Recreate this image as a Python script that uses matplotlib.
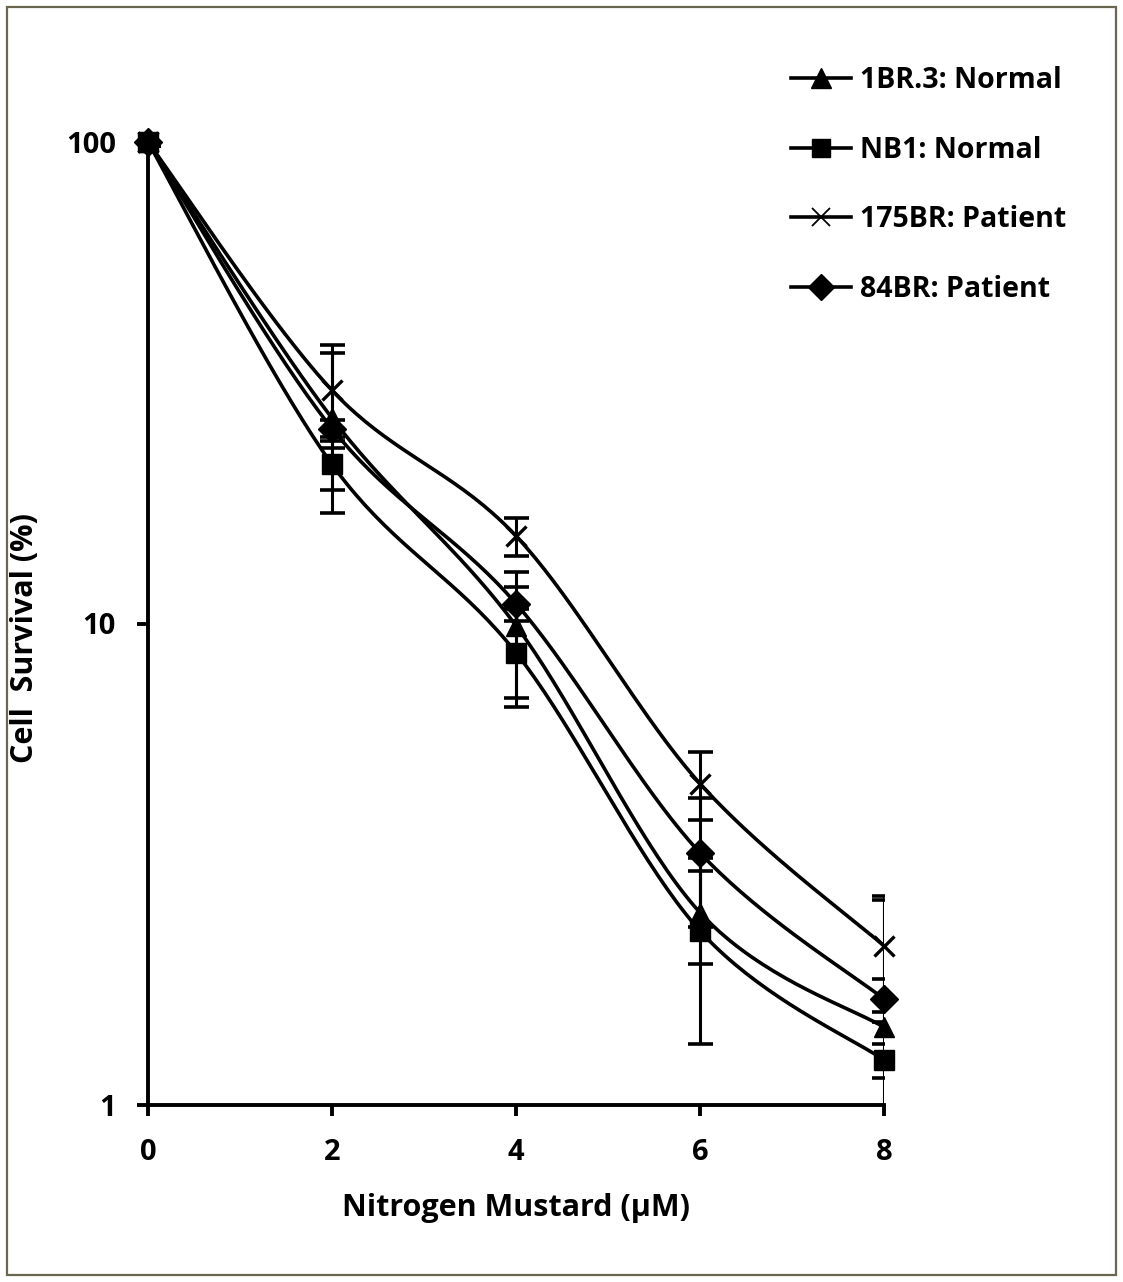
import numpy as np
import matplotlib
matplotlib.use("Agg")
import matplotlib.pyplot as plt
from matplotlib.patches import Rectangle

plt.rcParams['font.family'] = ['Open Sans', 'DejaVu Sans']
plt.rcParams['font.weight'] = 'bold'

dose = [0, 2, 4, 6, 8]
labels = ["1BR.3: Normal", "NB1: Normal", "175BR: Patient", "84BR: Patient"]
survival_1br3 = [100, 26.7, 9.9, 2.51, 1.45]
err_1br3 = [2, 9.7, 2.9, 0.55, 1.21]
survival_nb1 = [100, 21.4, 8.7, 2.30, 1.24]
err_nb1 = [2, 2.5, 2.0, 0.96, 0.1]
survival_175br = [100, 30.5, 15.2, 4.65, 2.14]
err_175br = [2, 7.3, 1.4, 0.75, 0.58]
survival_84br = [100, 25.4, 11.0, 3.34, 1.66]
err_84br = [2, 1.0, 0.9, 1.0, 0.17]

series = [
    (survival_1br3, err_1br3, '^', 15),
    (survival_nb1, err_nb1, 's', 14),
    (survival_175br, err_175br, 'x', 14),
    (survival_84br, err_84br, 'D', 14),
]

def smooth(xs, ys, n=40):
    xs = np.asarray(xs, float); ys = np.log10(np.asarray(ys, float))
    P = np.column_stack([xs, ys])
    P = np.vstack([P[0], P, P[-1]])
    out = []
    for i in range(1, len(P) - 2):
        p0, p1, p2, p3 = P[i-1], P[i], P[i+1], P[i+2]
        t = np.linspace(0, 1, n)[:, None]
        c1 = p1 + (p2 - p0) / 6.0
        c2 = p2 - (p3 - p1) / 6.0
        seg = ((1-t)**3)*p1 + 3*((1-t)**2)*t*c1 + 3*(1-t)*t**2*c2 + t**3*p2
        out.append(seg)
    S = np.vstack(out)
    return S[:, 0], 10**S[:, 1]

W, H = 1123, 1282
fig = plt.figure(figsize=(W/100, H/100), dpi=100)
ax = fig.add_axes([148/W, 1 - 1105/H, (884-148)/W, (1105-142)/H])

handles = []
for (vals, errs, mk, ms), lab in zip(series, labels):
    sx, sy = smooth(dose, vals)
    ax.plot(sx, sy, color='k', lw=2.6, zorder=2, clip_on=False)
    ax.errorbar(dose, vals, yerr=errs, fmt='none', ecolor='k', elinewidth=2.2,
                capsize=9, capthick=2.6, zorder=3)
    mew = 2.4 if mk == 'x' else 1
    ax.plot(dose, vals, linestyle='none', marker=mk, markersize=ms,
            markerfacecolor='k', markeredgecolor='k', markeredgewidth=mew,
            zorder=4, clip_on=False)
    h, = ax.plot([], [], color='k', lw=2.6, marker=mk, markersize=ms * 0.95,
                 markerfacecolor='k', markeredgecolor='k',
                 markeredgewidth=(1.3 if mk == 'x' else 1))
    handles.append(h)

ax.set_yscale('log')
ax.set_xlim(0, 8)
ax.set_ylim(1, 100)
ax.set_xticks([0, 2, 4, 6, 8])
ax.set_yticks([1, 10, 100])
ax.set_yticklabels(['1', '10', '100'])
ax.yaxis.set_minor_locator(matplotlib.ticker.NullLocator())
for s in ['top', 'right']:
    ax.spines[s].set_visible(False)
for s in ['left', 'bottom']:
    ax.spines[s].set_linewidth(2.8)
ax.tick_params(axis='both', direction='out', length=8, width=2.8,
               labelsize=21)
ax.tick_params(axis='x', pad=16)
ax.tick_params(axis='y', pad=15)
for lbl in ax.get_xticklabels() + ax.get_yticklabels():
    lbl.set_fontweight('bold')
ax.set_xlabel('Nitrogen Mustard (μM)', fontsize=22, fontweight='bold')
ax.set_ylabel('Cell  Survival (%)', fontsize=22, fontweight='bold')
ax.xaxis.set_label_coords(0.5, -(1193 - 1105) / (1105 - 142), transform=ax.transAxes)
ax.yaxis.set_label_coords(-(148 - 40) / (884 - 148), (1105 - 638) / (1105 - 142))

leg = fig.legend(handles, labels, loc='upper left',
                 bbox_to_anchor=(780/W, 1 - 55/H), frameon=False,
                 prop={'size': 20.5, 'weight': 'bold'}, handlelength=2.1,
                 handletextpad=0.3, labelspacing=1.42, borderaxespad=0)

fig.patches.append(Rectangle((7/W, 7/H), (W-14)/W, (H-14)/H, transform=fig.transFigure,
                             fill=False, edgecolor='#6b6650', linewidth=1.6))

fig.savefig('out.png', dpi=100)
